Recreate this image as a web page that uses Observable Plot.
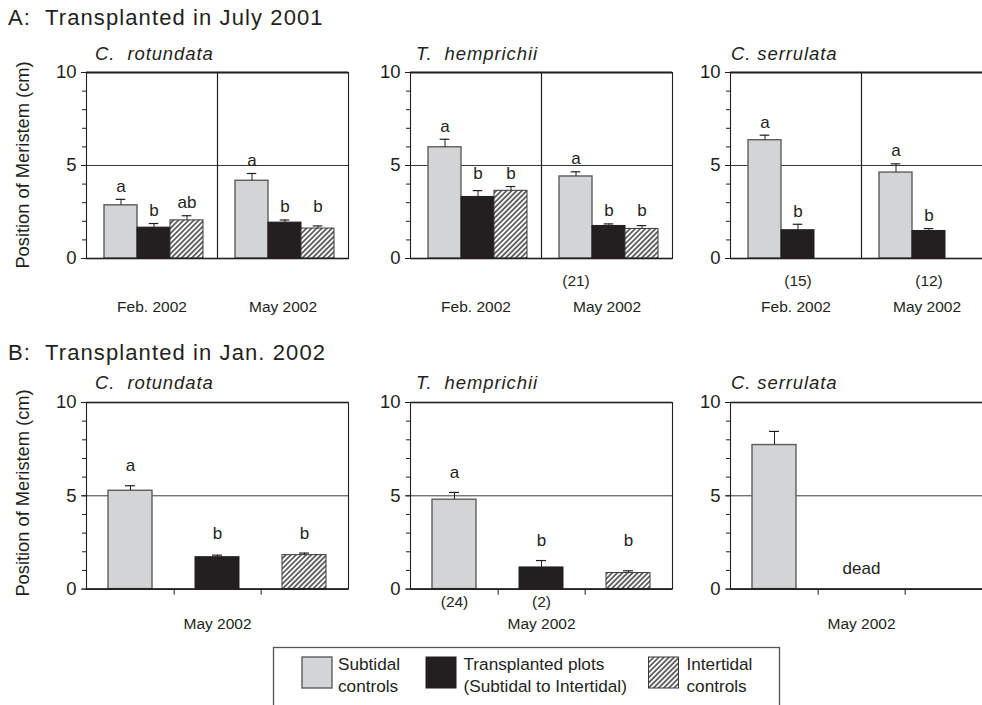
<!DOCTYPE html>
<html><head><meta charset="utf-8">
<script src="https://cdn.jsdelivr.net/npm/d3@7"></script>
<script src="https://cdn.jsdelivr.net/npm/@observablehq/plot@0.6"></script>
<style>
html,body{margin:0;padding:0;background:#fff;}
#wrap{position:relative;width:982px;height:705px;overflow:hidden;font-family:"Liberation Sans",Arial,Helvetica,sans-serif;color:#231f20;}
#wrap svg{position:absolute;overflow:visible;}
</style></head><body>
<svg width="0" height="0" style="position:absolute">
  <defs>
    <pattern id="hatch" patternUnits="userSpaceOnUse" width="3.6" height="3.6" patternTransform="rotate(45)">
      <rect width="3.6" height="3.6" fill="#ffffff"/>
      <line x1="1.8" y1="0" x2="1.8" y2="3.6" stroke="#231f20" stroke-width="1.3"/>
    </pattern>
  </defs>
</svg>
<div id="wrap"></div>
<script>
// ---------- data ----------
const treatments = ["Subtidal", "Transplanted", "Intertidal"];
const datesA = ["Feb. 2002", "May 2002"];
const datesB = ["May 2002"];
const speciesNames = ["C.  rotundata", "T.  hemprichii", "C. serrulata"];
const panelTitles = ["A:  Transplanted in July 2001", "B:  Transplanted in Jan. 2002"];
const yLabel = "Position of Meristem (cm)";
const yMajorTicks = [0, 5, 10];
const yMinorTicks = [0, 1, 2, 3, 4, 5, 6, 7, 8, 9, 10];
const legendLabels = [["Subtidal", "controls"], ["Transplanted plots", "(Subtidal to Intertidal)"], ["Intertidal", "controls"]];

// A: rows = dates (Feb, May), cols = treatments; "Top" = mean + SE
const aRotMean = [[2.86, 1.66, 2.05], [4.18, 1.93, 1.61]];
const aRotTop = [[3.18, 1.88, 2.30], [4.57, 2.07, 1.75]];
const aRotLetters = [["a", "b", "ab"], ["a", "b", "b"]];
const aRotN = [["", "", ""], ["", "", ""]];

const aHemMean = [[5.98, 3.31, 3.64], [4.41, 1.75, 1.59]];
const aHemTop = [[6.41, 3.65, 3.87], [4.66, 1.86, 1.77]];
const aHemLetters = [["a", "b", "b"], ["a", "b", "b"]];
const aHemN = [["", "", ""], ["(21)", "", ""]];

const aSerMean = [[6.36, 1.52, 0], [4.62, 1.48, 0]];
const aSerTop = [[6.63, 1.84, null], [5.09, 1.61, null]];
const aSerLetters = [["a", "b", ""], ["a", "b", ""]];
const aSerN = [["", "(15)", ""], ["", "(12)", ""]];

// B: single date (May 2002)
const bRotMean = [5.27, 1.71, 1.82];
const bRotTop = [5.54, 1.82, 1.93];
const bRotLetters = ["a", "b", "b"];
const bRotN = ["", "", ""];
const bRotNote = ["", "", ""];

const bHemMean = [4.79, 1.16, 0.86];
const bHemTop = [5.18, 1.53, 0.98];
const bHemLetters = ["a", "b", "b"];
const bHemN = ["(24)", "(2)", ""];
const bHemNote = ["", "", ""];

const bSerMean = [7.72, null, null];
const bSerTop = [8.45, null, null];
const bSerLetters = ["", "", ""];
const bSerN = ["", "", ""];
const bSerNote = ["", "dead", ""];

// ---------- styles ----------
const INK = "#231f20";
const fills = {Subtidal: "#d3d4d6", Transplanted: "#231f20", Intertidal: "url(#hatch)"};
const strokes = {Subtidal: "#5d5d5d", Transplanted: "#231f20", Intertidal: "#3a3a3a"};
const FONT = '"Liberation Sans", Arial, Helvetica, sans-serif';
const wrap = document.getElementById("wrap");

function letterLevels(rows, key) {
  rows.forEach(r => {
    if (!r.letter) return;
    const same = rows.filter(s => s[key] === r[key] && s.letter === r.letter && s.top != null);
    r.letterY = d3.max(same, s => s.top);
  });
}

function barMarks(rows, facet) {
  return treatments.map(t => Plot.barY(rows.filter(r => r.t === t && r.mean != null), {
    ...(facet ? {fx: "date"} : {}), x: "t", y: "mean",
    fill: fills[t], stroke: strokes[t], strokeWidth: t === "Subtidal" ? 1.4 : 1
  }));
}

function axisMarks() {
  return [
    Plot.axisY({ticks: yMajorTicks, tickSize: 5, tickPadding: 5, fontSize: 18.5, label: null, stroke: INK, color: INK}),
    Plot.axisY({ticks: yMinorTicks, tickSize: 4, tickFormat: () => "", label: null, stroke: INK})
  ];
}

function place(svg, left, top) {
  svg.style.left = left + "px";
  svg.style.top = top + "px";
  wrap.appendChild(svg);
}

function topPanel(mean, top, letters, ns, axisLeft) {
  const rows = [];
  datesA.forEach((d, i) => treatments.forEach((t, j) => rows.push({
    date: d, t, mean: mean[i][j], top: top[i][j], letter: letters[i][j], n: ns[i][j]
  })));
  letterLevels(rows, "date");
  const withErr = rows.filter(r => r.top != null);
  const chart = Plot.plot({
    width: 304, height: 268, marginLeft: 40, marginRight: 2, marginTop: 12, marginBottom: 70,
    style: {fontFamily: FONT, fontSize: "16px", color: INK, background: "transparent", overflow: "visible"},
    fx: {domain: datesA, padding: 0, axis: null},
    x: {domain: treatments, paddingInner: 0, paddingOuter: 0.465, align: 0.55, axis: null},
    y: {domain: [0, 10], axis: null},
    marks: [
      Plot.ruleY([5], {stroke: "#3a3a3a", strokeWidth: 1}),
      ...barMarks(rows, true),
      Plot.ruleX(withErr, {fx: "date", x: "t", y1: "mean", y2: "top", stroke: INK, strokeWidth: 1}),
      Plot.tickY(withErr, {fx: "date", x: "t", y: "top", insetLeft: 11.7, insetRight: 11.7, stroke: INK, strokeWidth: 1.2}),
      Plot.text(rows.filter(r => r.letter), {fx: "date", x: "t", y: "letterY", text: "letter", dy: -13, fontSize: 17, fill: INK}),
      Plot.text(rows.filter(r => r.n), {fx: "date", x: "t", y: 0, text: "n", dy: 23, fontSize: 15.5, fill: INK}),
      Plot.text(datesA, {fx: d => d, text: d => d, frameAnchor: "bottom", dy: 53, fontSize: 15.5, fill: INK}),
      Plot.frame({stroke: INK, strokeWidth: 1.1}),
      Plot.ruleY([10], {stroke: INK, strokeWidth: 1.8}),
      Plot.ruleY([0], {stroke: INK, strokeWidth: 1.6}),
      ...axisMarks()
    ]
  });
  place(chart, axisLeft - 40, 72.2 - 12);
}

function bottomPanel(mean, top, letters, ns, notes, axisLeft) {
  const rows = treatments.map((t, j) => ({
    date: datesB[0], t, mean: mean[j], top: top[j], letter: letters[j], n: ns[j], note: notes[j]
  }));
  letterLevels(rows, "date");
  const withErr = rows.filter(r => r.top != null);
  const plotW = 262;
  const chart = Plot.plot({
    width: 304, height: 249, marginLeft: 40, marginRight: 2, marginTop: 12, marginBottom: 50.4,
    style: {fontFamily: FONT, fontSize: "16px", color: INK, background: "transparent", overflow: "visible"},
    x: {domain: treatments, paddingInner: 0.49, paddingOuter: 0.245, axis: null},
    y: {domain: [0, 10], axis: null},
    marks: [
      Plot.ruleY([5], {stroke: "#3a3a3a", strokeWidth: 1}),
      ...barMarks(rows, false),
      Plot.ruleX(withErr, {x: "t", y1: "mean", y2: "top", stroke: INK, strokeWidth: 1}),
      Plot.tickY(withErr, {x: "t", y: "top", insetLeft: 17, insetRight: 17, stroke: INK, strokeWidth: 1.2}),
      Plot.text(rows.filter(r => r.letter), {x: "t", y: "letterY", text: "letter", dy: -20, fontSize: 17, fill: INK}),
      Plot.text(rows.filter(r => r.n), {x: "t", y: 0, text: "n", dy: 13, fontSize: 15.5, fill: INK}),
      Plot.text(rows.filter(r => r.note), {x: "t", y: 0, text: "note", dy: -21, fontSize: 17, fill: INK}),
      Plot.text(datesB, {text: d => d, frameAnchor: "bottom", dy: 40, fontSize: 15.5, fill: INK}),
      Plot.ruleX(treatments.slice(0, 2), {x: d => d, dx: plotW / 6, y1: 0, y2: -0.33, stroke: INK, strokeWidth: 1}),
      Plot.frame({stroke: INK, strokeWidth: 1.1}),
      Plot.ruleY([10], {stroke: INK, strokeWidth: 1.5}),
      Plot.ruleY([0], {stroke: INK, strokeWidth: 1.6}),
      ...axisMarks()
    ]
  });
  place(chart, axisLeft - 40, 401.7 - 12);
}

const axisXs = [86, 409.5, 730];
topPanel(aRotMean, aRotTop, aRotLetters, aRotN, axisXs[0]);
topPanel(aHemMean, aHemTop, aHemLetters, aHemN, axisXs[1]);
topPanel(aSerMean, aSerTop, aSerLetters, aSerN, axisXs[2]);
bottomPanel(bRotMean, bRotTop, bRotLetters, bRotN, bRotNote, 85.5);
bottomPanel(bHemMean, bHemTop, bHemLetters, bHemN, bHemNote, 410);
bottomPanel(bSerMean, bSerTop, bSerLetters, bSerN, bSerNote, 730);

// ---------- overlay: titles, y labels, legend ----------
const ov = d3.select(wrap).append("svg")
  .attr("width", 982).attr("height", 705)
  .style("left", "0px").style("top", "0px")
  .style("font-family", FONT).style("fill", INK);

ov.append("text").attr("x", 8).attr("y", 25).attr("font-size", 22)
  .style("letter-spacing", "1.1px").style("white-space", "pre").text(panelTitles[0]);
ov.append("text").attr("x", 8).attr("y", 360).attr("font-size", 22)
  .style("letter-spacing", "1.1px").style("white-space", "pre").text(panelTitles[1]);

const speciesX = [95, 416, 731];
[60, 388.5].forEach(by => speciesNames.forEach((s, i) => {
  ov.append("text").attr("x", speciesX[i]).attr("y", by).attr("font-size", 18.5)
    .attr("font-style", "italic").style("letter-spacing", "0.9px").style("white-space", "pre").text(s);
}));

[165, 493].forEach(cy => {
  ov.append("text").attr("transform", `translate(22,${cy}) rotate(-90)`)
    .attr("text-anchor", "middle").attr("dominant-baseline", "central")
    .attr("font-size", 18.3).text(yLabel);
});

// legend
ov.append("rect").attr("x", 273.5).attr("y", 647.5).attr("width", 506).attr("height", 90)
  .attr("fill", "none").attr("stroke", "#555").attr("stroke-width", 1.3);
const swX = [302, 426, 648.5];
const txX = [338, 463.5, 686.5];
treatments.forEach((t, i) => {
  ov.append("rect").attr("x", swX[i]).attr("y", 657).attr("width", 30).attr("height", 31)
    .attr("fill", fills[t]).attr("stroke", strokes[t]).attr("stroke-width", t === "Subtidal" ? 1.4 : 1);
  legendLabels[i].forEach((line, k) => {
    ov.append("text").attr("x", txX[i]).attr("y", 670 + k * 21.7).attr("font-size", 17.2).text(line);
  });
});
</script>
</body></html>
